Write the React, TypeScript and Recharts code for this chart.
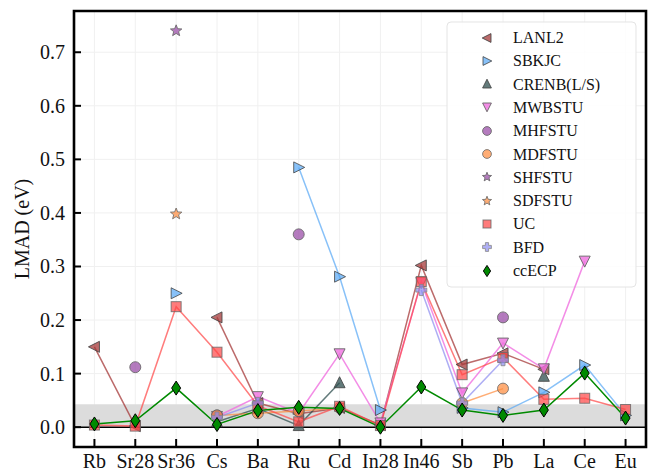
import React from 'react';
import { LineChart, Line, XAxis, YAxis, CartesianGrid, ReferenceArea, ReferenceLine } from 'recharts';

const categories = ['Rb', 'Sr28', 'Sr36', 'Cs', 'Ba', 'Ru', 'Cd', 'In28', 'In46', 'Sb', 'Pb', 'La', 'Ce', 'Eu'];
const yTicks = [0, 0.1, 0.2, 0.3, 0.4, 0.5, 0.6, 0.7];

const lanl2 = [0.150, 0.002, null, 0.205, 0.045, 0.025, 0.036, 0.004, 0.302, 0.117, 0.138, 0.108, null, null];
const sbkjc = [null, null, 0.250, null, null, 0.485, 0.281, 0.032, null, 0.036, 0.028, 0.065, 0.116, 0.022];
const crenb = [null, null, null, 0.010, 0.035, 0.003, 0.083, null, null, null, null, 0.095, null, null];
const mwbstu = [null, null, null, 0.020, 0.057, 0.026, 0.137, 0.008, 0.270, 0.064, 0.157, 0.109, 0.310, null];
const mhfstu = [null, 0.112, null, 0.022, null, 0.360, null, null, null, null, 0.205, null, null, null];
const mdfstu = [null, null, null, 0.022, 0.026, 0.030, 0.036, null, null, 0.045, 0.072, null, null, null];
const shfstu = [null, null, 0.740, null, null, null, null, null, null, null, null, null, null, null];
const sdfstu = [null, null, 0.398, null, null, null, null, null, null, null, null, null, null, null];
const uc = [0.004, 0.002, 0.225, 0.140, 0.040, 0.010, 0.039, 0.003, 0.272, 0.098, 0.130, 0.052, 0.054, 0.033];
const bfd = [null, null, null, 0.018, 0.045, null, null, null, 0.256, 0.045, 0.125, null, null, null];
const ccecp = [0.006, 0.012, 0.073, 0.005, 0.031, 0.037, 0.035, 0.000, 0.075, 0.032, 0.022, 0.032, 0.101, 0.017];

type Shape = 'left' | 'right' | 'up' | 'down' | 'circle' | 'star' | 'square' | 'plus' | 'diamond';

const series: { name: string; values: (number | null)[]; color: string; opacity: number; shape: Shape; edge: string }[] = [
  { name: 'LANL2', values: lanl2, color: '#a63a3a', opacity: 0.75, shape: 'left', edge: '#444' },
  { name: 'SBKJC', values: sbkjc, color: '#55a6f5', opacity: 0.7, shape: 'right', edge: '#444' },
  { name: 'CRENB(L/S)', values: crenb, color: '#2f4f4f', opacity: 0.75, shape: 'up', edge: '#444' },
  { name: 'MWBSTU', values: mwbstu, color: '#f070e0', opacity: 0.8, shape: 'down', edge: '#666' },
  { name: 'MHFSTU', values: mhfstu, color: '#9b4fa8', opacity: 0.75, shape: 'circle', edge: '#666' },
  { name: 'MDFSTU', values: mdfstu, color: '#ff8a3a', opacity: 0.7, shape: 'circle', edge: '#666' },
  { name: 'SHFSTU', values: shfstu, color: '#9b4fa8', opacity: 0.75, shape: 'star', edge: '#666' },
  { name: 'SDFSTU', values: sdfstu, color: '#ff8a3a', opacity: 0.7, shape: 'star', edge: '#666' },
  { name: 'UC', values: uc, color: '#ff4545', opacity: 0.7, shape: 'square', edge: '#666' },
  { name: 'BFD', values: bfd, color: '#8c8cf0', opacity: 0.7, shape: 'plus', edge: '#888' },
  { name: 'ccECP', values: ccecp, color: '#008a00', opacity: 1, shape: 'diamond', edge: '#000' },
];

const data = categories.map((c, i) => {
  const row: Record<string, number | string | null> = { x: i, name: c };
  series.forEach((s) => { row[s.name] = s.values[i]; });
  return row;
});

const FONT = '"Liberation Serif", "DejaVu Serif", serif';

// legend frame, in axis units (sits under the lines, over the grid)
const legendX = [8.63, 13.255];
const legendY = [0.2617, 0.7565];

function Marker({ shape, x, y, k = 1, fill, stroke, opacity }: any) {
  const p = { fill, stroke, fillOpacity: opacity, strokeOpacity: Math.min(1, opacity + 0.1), strokeWidth: 1 };
  switch (shape as Shape) {
    case 'left':
      return <polygon points={`${x - 6 * k},${y} ${x + 5 * k},${y - 5.5 * k} ${x + 5 * k},${y + 5.5 * k}`} {...p} />;
    case 'right':
      return <polygon points={`${x + 6 * k},${y} ${x - 5 * k},${y - 5.5 * k} ${x - 5 * k},${y + 5.5 * k}`} {...p} />;
    case 'up':
      return <polygon points={`${x},${y - 6 * k} ${x - 5.5 * k},${y + 5 * k} ${x + 5.5 * k},${y + 5 * k}`} {...p} />;
    case 'down':
      return <polygon points={`${x},${y + 6 * k} ${x - 5.5 * k},${y - 5 * k} ${x + 5.5 * k},${y - 5 * k}`} {...p} />;
    case 'circle':
      return <circle cx={x} cy={y} r={5.5 * k} {...p} />;
    case 'square':
      return <rect x={x - 5 * k} y={y - 5 * k} width={10 * k} height={10 * k} {...p} />;
    case 'star': {
      const pts: string[] = [];
      for (let i = 0; i < 10; i++) {
        const a = (-90 + 36 * i) * Math.PI / 180;
        const r = (i % 2 === 0 ? 6 : 2.6) * k;
        pts.push(`${x + r * Math.cos(a)},${y + r * Math.sin(a)}`);
      }
      return <polygon points={pts.join(' ')} {...p} />;
    }
    case 'plus': {
      const a = 5.5 * k, b = 2 * k;
      const d = `M${x - b},${y - a}H${x + b}V${y - b}H${x + a}V${y + b}H${x + b}V${y + a}H${x - b}V${y + b}H${x - a}V${y - b}H${x - b}Z`;
      return <path d={d} {...p} />;
    }
    case 'diamond':
      return <polygon points={`${x},${y - 7 * k} ${x + 4.5 * k},${y} ${x},${y + 7 * k} ${x - 4.5 * k},${y}`} {...p} />;
  }
  return null;
}

const makeDot = (s: typeof series[number]) => (props: any) => {
  const { cx, cy, value, index } = props;
  if (value == null || cx == null || cy == null || Number.isNaN(cy)) return <g key={`${s.name}-${index}`} />;
  return (
    <g key={`${s.name}-${index}`}>
      <Marker shape={s.shape} x={cx} y={cy} fill={s.color} stroke={s.edge} opacity={s.opacity} />
    </g>
  );
};

const XTick = (props: any) => {
  const { x, y, payload } = props;
  return (
    <g>
      <line x1={x} x2={x} y1={y} y2={y - 8} stroke="#000" strokeWidth={2} />
      <text x={x} y={y + 21} textAnchor="middle" fontSize={20} fontFamily={FONT} fill="#111">
        {categories[payload.value]}
      </text>
    </g>
  );
};

const YTick = (props: any) => {
  const { x, y, payload } = props;
  return (
    <g>
      <line x1={x} x2={x + 7} y1={y} y2={y} stroke="#000" strokeWidth={2} />
      <text x={x - 9} y={y} dy="0.35em" textAnchor="end" fontSize={20} fontFamily={FONT} fill="#111">
        {Number(payload.value).toFixed(1)}
      </text>
    </g>
  );
};

const YTitle = () => (
  <text x={22} y={229} transform="rotate(-90 22 229)" textAnchor="middle" dy="0.35em" fontSize={20} fontFamily={FONT} fill="#111">
    LMAD (eV)
  </text>
);

function LegendEntries() {
  return (
    <div style={{ position: 'absolute', left: 447, top: 22, width: 189, height: 265, pointerEvents: 'none' }}>
      {series.map((s, i) => (
        <div key={s.name} style={{ position: 'absolute', left: 0, top: 4 + i * 23.3, height: 23.3, width: 189 }}>
          <svg width={20} height={20} style={{ position: 'absolute', left: 30, top: 1.6 }}>
            <Marker shape={s.shape} x={10} y={10} k={0.8} fill={s.color} stroke={s.edge} opacity={s.opacity} />
          </svg>
          <span
            style={{
              position: 'absolute', left: 66, top: 0, lineHeight: '23.3px', fontSize: 16,
              fontFamily: FONT, color: '#111', whiteSpace: 'nowrap',
            }}
          >
            {s.name}
          </span>
        </div>
      ))}
    </div>
  );
}

export default function App() {
  return (
    <div style={{ position: 'absolute', left: 0, top: 0, width: 662, height: 472, background: '#fff' }}>
      <div style={{ position: 'absolute', left: 0, top: 0 }}>
        <LineChart width={662} height={472} data={data} margin={{ top: 11, right: 16, bottom: 0, left: 0 }}>
          <CartesianGrid stroke="#f0f0f0" strokeWidth={1} />
          <XAxis
            type="number"
            dataKey="x"
            domain={[-0.5, 13.5]}
            ticks={categories.map((_, i) => i)}
            interval={0}
            height={25}
            tickSize={0}
            tickMargin={0}
            tickLine={false}
            axisLine={false}
            tick={<XTick />}
            allowDataOverflow
          />
          <YAxis
            type="number"
            domain={[-0.037, 0.777]}
            ticks={yTicks}
            width={74}
            tickSize={0}
            tickMargin={0}
            tickLine={false}
            axisLine={false}
            tick={<YTick />}
            label={<YTitle />}
            allowDataOverflow
          />
          <ReferenceArea
            x1={legendX[0]} x2={legendX[1]} y1={legendY[0]} y2={legendY[1]}
            fill="#fff" fillOpacity={0.85} stroke="#e4e4e4" strokeWidth={1} radius={4}
          />
          <ReferenceArea y1={0} y2={0.043} fill="#dcdcdc" fillOpacity={1} stroke="none" />
          <ReferenceLine y={0} stroke="#000" strokeWidth={1.6} />
          {series.map((s) => (
            <Line
              key={s.name}
              dataKey={s.name}
              stroke={s.color}
              strokeOpacity={s.opacity}
              strokeWidth={1.5}
              dot={makeDot(s)}
              activeDot={false}
              isAnimationActive={false}
              connectNulls={false}
            />
          ))}
          <ReferenceArea x1={-0.5} x2={13.5} y1={-0.037} y2={0.777} fill="none" stroke="#000" strokeWidth={2.6} />
        </LineChart>
      </div>
      <LegendEntries />
    </div>
  );
}
